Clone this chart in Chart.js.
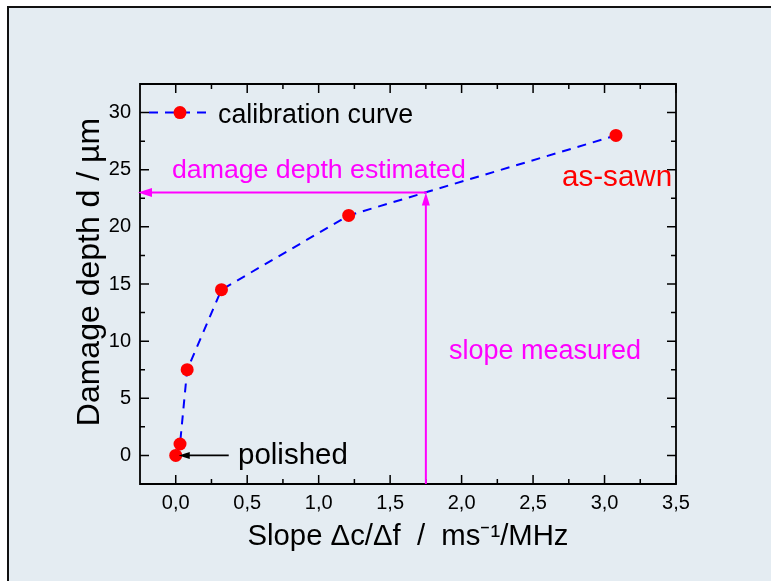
<!DOCTYPE html>
<html>
<head>
<meta charset="utf-8">
<script src="https://cdn.jsdelivr.net/npm/chart.js@4.4.0/dist/chart.umd.min.js"></script>
<style>
  html, body { margin: 0; padding: 0; background: #fff; }
  canvas { display: block; }
</style>
</head>
<body>
<canvas id="chart" width="771" height="581"></canvas>
<script>
// calibration curve: slope of c(f) vs damage depth
const slopeValues = [0.0, 0.03, 0.08, 0.32, 1.21, 3.08];
const depthValues = [0.0, 1.0, 7.5, 14.5, 21.0, 28.0];

const xTickValues = [0, 0.5, 1, 1.5, 2, 2.5, 3, 3.5];
const xTickLabels = ['0,0', '0,5', '1,0', '1,5', '2,0', '2,5', '3,0', '3,5'];
const xMinorValues = [0.25, 0.75, 1.25, 1.75, 2.25, 2.75, 3.25];
const yTickValues = [0, 5, 10, 15, 20, 25, 30];
const yTickLabels = ['0', '5', '10', '15', '20', '25', '30'];
const yMinorValues = [2.5, 7.5, 12.5, 17.5, 22.5, 27.5];

// measured slope and the depth read back off the curve
const measuredSlope = 1.75;
const estimatedDepth = 23;

const FONT = '"Liberation Sans", Arial, Helvetica, sans-serif';
const MAGENTA = '#ff00ff';
const BLUE = '#0000ff';
const RED = '#ff0000';

function arrowHead(ctx, x, y, dir, len, half) {
  ctx.beginPath();
  ctx.moveTo(x, y);
  if (dir === 'left') {
    ctx.lineTo(x + len, y - half);
    ctx.lineTo(x + len, y + half);
  } else {
    ctx.lineTo(x - half, y + len);
    ctx.lineTo(x + half, y + len);
  }
  ctx.closePath();
  ctx.fill();
}

function text(ctx, str, x, y, size, color) {
  ctx.font = size + 'px ' + FONT;
  ctx.fillStyle = color;
  ctx.textAlign = 'left';
  ctx.textBaseline = 'alphabetic';
  ctx.fillText(str, x, y);
}

// light panel with a dark edge on top and left
const panelPlugin = {
  id: 'panel',
  beforeDraw(chart) {
    const ctx = chart.ctx;
    const w = chart.width, h = chart.height;
    ctx.save();
    ctx.fillStyle = '#fff';
    ctx.fillRect(0, 0, w, h);
    ctx.fillStyle = '#e4ecf2';
    ctx.fillRect(8, 7, w - 8, h - 7);
    ctx.strokeStyle = '#111';
    ctx.lineWidth = 2;
    ctx.beginPath();
    ctx.moveTo(8, h);
    ctx.lineTo(8, 7);
    ctx.lineTo(w, 7);
    ctx.stroke();
    ctx.restore();
  }
};

// box frame with inward ticks on all four sides, plus the y title
const framePlugin = {
  id: 'frame',
  afterDatasetsDraw(chart) {
    const ctx = chart.ctx;
    const { left, right, top, bottom } = chart.chartArea;
    const xs = chart.scales.x, ys = chart.scales.y;
    ctx.save();
    ctx.strokeStyle = '#000';
    ctx.lineWidth = 1.8;
    ctx.beginPath();
    ctx.rect(left, top, right - left, bottom - top);
    ctx.stroke();

    ctx.lineWidth = 1.5;
    ctx.beginPath();
    const xt = (vals, len) => vals.forEach(v => {
      const px = xs.getPixelForValue(v);
      ctx.moveTo(px, bottom); ctx.lineTo(px, bottom - len);
      ctx.moveTo(px, top); ctx.lineTo(px, top + len);
    });
    const yt = (vals, len) => vals.forEach(v => {
      const py = ys.getPixelForValue(v);
      ctx.moveTo(left, py); ctx.lineTo(left + len, py);
      ctx.moveTo(right, py); ctx.lineTo(right - len, py);
    });
    xt(xTickValues, 9); xt(xMinorValues, 5);
    yt(yTickValues, 9); yt(yMinorValues, 5);
    ctx.stroke();

    // y axis title sits a little above the middle of the axis
    ctx.translate(90, 272);
    ctx.rotate(-Math.PI / 2);
    ctx.font = '32px ' + FONT;
    ctx.fillStyle = '#000';
    ctx.textAlign = 'center';
    ctx.textBaseline = 'middle';
    ctx.fillText('Damage depth d / \u00B5m', 0, 0);
    ctx.restore();
  }
};

// legend, read-off arrows and labels
const notesPlugin = {
  id: 'notes',
  afterDatasetsDraw(chart) {
    const ctx = chart.ctx;
    const xs = chart.scales.x, ys = chart.scales.y;
    const { left, bottom } = chart.chartArea;
    ctx.save();

    // measured slope -> curve -> estimated depth
    const sx = xs.getPixelForValue(measuredSlope);
    const dy = ys.getPixelForValue(estimatedDepth);
    ctx.strokeStyle = MAGENTA;
    ctx.fillStyle = MAGENTA;
    ctx.lineWidth = 2;
    ctx.beginPath();
    ctx.moveTo(sx, bottom);
    ctx.lineTo(sx, dy + 10);
    ctx.moveTo(sx + 1, dy);
    ctx.lineTo(left + 12, dy);
    ctx.stroke();
    arrowHead(ctx, sx, dy, 'up', 13, 4);
    arrowHead(ctx, left - 2, dy, 'left', 14, 4.5);

    text(ctx, 'damage depth estimated', 172, 178, 26.7, MAGENTA);
    text(ctx, 'slope measured', 449, 359, 27, MAGENTA);
    text(ctx, 'as-sawn', 562, 186, 29.6, RED);

    // polished pointer
    const p0x = xs.getPixelForValue(slopeValues[0]);
    const p0y = ys.getPixelForValue(depthValues[0]);
    ctx.strokeStyle = '#000';
    ctx.fillStyle = '#000';
    ctx.lineWidth = 1.8;
    ctx.beginPath();
    ctx.moveTo(p0x + 12, p0y);
    ctx.lineTo(p0x + 53, p0y);
    ctx.stroke();
    arrowHead(ctx, p0x + 3, p0y, 'left', 11, 3.5);
    text(ctx, 'polished', 238, 464, 29.5, '#000');

    // legend entry
    const ly = ys.getPixelForValue(30);
    ctx.strokeStyle = BLUE;
    ctx.lineWidth = 2;
    ctx.setLineDash([9, 7]);
    ctx.beginPath();
    ctx.moveTo(left + 9, ly);
    ctx.lineTo(left + 73, ly);
    ctx.stroke();
    ctx.setLineDash([]);
    ctx.fillStyle = RED;
    ctx.beginPath();
    ctx.arc(left + 40, ly, 6.5, 0, Math.PI * 2);
    ctx.fill();
    text(ctx, 'calibration curve', 218, 123, 26.8, '#000');

    ctx.restore();
  }
};

const points = slopeValues.map((x, i) => ({ x, y: depthValues[i] }));

new Chart(document.getElementById('chart'), {
  type: 'scatter',
  data: {
    datasets: [{
      label: 'calibration curve',
      data: points,
      showLine: true,
      borderColor: BLUE,
      borderWidth: 2,
      borderDash: [9, 7],
      tension: 0,
      pointRadius: 6.5,
      pointHoverRadius: 6.5,
      pointBackgroundColor: RED,
      pointBorderWidth: 0,
      clip: false
    }]
  },
  options: {
    responsive: false,
    devicePixelRatio: 1,
    animation: false,
    events: [],
    layout: { padding: { left: 0, top: 84, right: 95, bottom: 0 } },
    plugins: { legend: { display: false }, tooltip: { enabled: false } },
    scales: {
      x: {
        type: 'linear',
        min: -0.25,
        max: 3.5,
        afterBuildTicks: s => { s.ticks = xTickValues.map(v => ({ value: v })); },
        afterFit: s => { s.height = 97; },
        grid: { display: false, drawTicks: false },
        border: { display: false },
        ticks: {
          padding: 7,
          color: '#000',
          font: { family: FONT, size: 20 },
          callback: (v, i) => xTickLabels[i]
        },
        title: {
          display: true,
          text: 'Slope \u0394c/\u0394f  /  ms\u207B\u00B9/MHz',
          color: '#000',
          font: { family: FONT, size: 29.3 },
          padding: { top: 0, bottom: 27 }
        }
      },
      y: {
        type: 'linear',
        min: -2.5,
        max: 32.5,
        afterBuildTicks: s => { s.ticks = yTickValues.map(v => ({ value: v })); },
        afterFit: s => { s.width = 140; },
        grid: { display: false, drawTicks: false },
        border: { display: false },
        ticks: {
          padding: 9,
          color: '#000',
          font: { family: FONT, size: 20 },
          callback: (v, i) => yTickLabels[i]
        },
        title: { display: false }
      }
    }
  },
  plugins: [panelPlugin, framePlugin, notesPlugin]
});
</script>
</body>
</html>
